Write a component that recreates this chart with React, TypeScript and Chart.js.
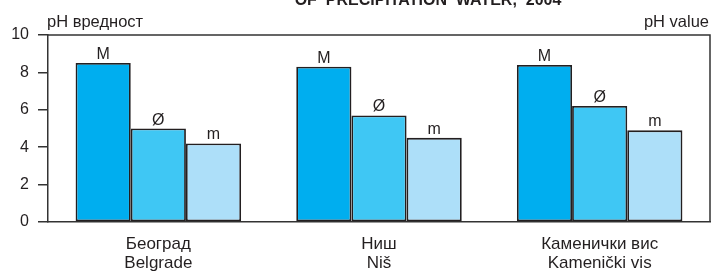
import React, { useEffect, useRef } from "react";
import { Chart, registerables } from "chart.js";

Chart.register(...registerables);

const categoriesSr = ["Београд", "Ниш", "Каменички вис"];
const categoriesEn = ["Belgrade", "Niš", "Kamenički vis"];
const seriesLabels = ["M", "Ø", "m"];
const maxValues = [8.5, 8.3, 8.4];
const meanValues = [5.0, 5.7, 6.2];
const minValues = [4.2, 4.5, 4.9];
const yTicks = [0, 2, 4, 6, 8, 10];
const titleText = "OF  PRECIPITATION  WATER,  2004";
const leftAxisTitle = "pH вредност";
const rightAxisTitle = "pH value";

const FONT = "'Liberation Sans', Arial, Helvetica, sans-serif";
const INK = "#231f20";

export default function App() {
  const ref = useRef<HTMLCanvasElement | null>(null);

  useEffect(() => {
    if (!ref.current) return;
    const decor = {
      id: "decor",
      afterDatasetsDraw(chart: any) {
        const ctx = chart.ctx;
        ctx.save();
        ctx.fillStyle = INK;
        ctx.font = `16px ${FONT}`;
        ctx.textAlign = "center";
        ctx.textBaseline = "alphabetic";
        chart.data.datasets.forEach((ds: any, i: number) => {
          const meta = chart.getDatasetMeta(i);
          meta.data.forEach((el: any) => {
            ctx.fillText(ds.label, el.x, el.y - 4);
          });
        });
        ctx.restore();
      },
      afterDraw(chart: any) {
        const ctx = chart.ctx;
        const a = chart.chartArea;
        ctx.save();
        ctx.strokeStyle = "#333333";
        ctx.lineWidth = 1.5;
        ctx.beginPath();
        ctx.moveTo(a.left, a.top);
        ctx.lineTo(a.right, a.top);
        ctx.lineTo(a.right, a.bottom);
        ctx.stroke();
        ctx.fillStyle = INK;
        ctx.font = `16.5px ${FONT}`;
        ctx.textBaseline = "alphabetic";
        ctx.textAlign = "left";
        ctx.fillText(leftAxisTitle, 47, 27);
        ctx.textAlign = "right";
        ctx.fillText(rightAxisTitle, 709, 27);
        ctx.font = `bold 16px ${FONT}`;
        ctx.textAlign = "center";
        ctx.fillText(titleText, 428, 5);
        ctx.restore();
      },
    };

    const chart = new Chart(ref.current, {
      type: "bar",
      data: {
        labels: categoriesSr.map((c, i) => [c, categoriesEn[i]]),
        datasets: [
          { label: seriesLabels[0], data: maxValues, backgroundColor: "#00aeef" },
          { label: seriesLabels[1], data: meanValues, backgroundColor: "#3fc7f4" },
          { label: seriesLabels[2], data: minValues, backgroundColor: "#addff9" },
        ].map((d) => ({
          ...d,
          borderColor: INK,
          borderWidth: 1.8,
          borderSkipped: false,
          categoryPercentage: 0.75,
          barPercentage: 1,
        })),
      },
      options: {
        responsive: false,
        animation: false,
        layout: { padding: { left: 0, right: 1, top: 35, bottom: 0 } },
        plugins: {
          legend: { display: false },
          tooltip: { enabled: false },
          title: { display: false },
        },
        scales: {
          x: {
            grid: { display: false, drawTicks: false },
            border: { display: true, color: "#333333", width: 1.5 },
            ticks: {
              color: INK,
              font: { family: FONT, size: 17, lineHeight: "19px" },
              padding: 13,
              maxRotation: 0,
              autoSkip: false,
            },
            afterFit(scale: any) {
              scale.height = 49;
            },
          },
          y: {
            min: 0,
            max: 10,
            afterBuildTicks(scale: any) {
              scale.ticks = yTicks.map((v) => ({ value: v }));
            },
            grid: {
              drawOnChartArea: false,
              drawTicks: true,
              tickLength: 10,
              color: "#333333",
              lineWidth: 1.5,
            },
            border: { display: true, color: "#333333", width: 1.5 },
            ticks: {
              color: INK,
              font: { family: FONT, size: 16 },
              padding: 9,
            },
            afterFit(scale: any) {
              scale.width = 48;
            },
          },
        },
      },
      plugins: [decor],
    });
    return () => chart.destroy();
  }, []);

  return (
    <div style={{ position: "absolute", left: 0, top: 0, width: 711, height: 271 }}>
      <canvas ref={ref} width={711} height={271} style={{ display: "block" }} />
    </div>
  );
}
